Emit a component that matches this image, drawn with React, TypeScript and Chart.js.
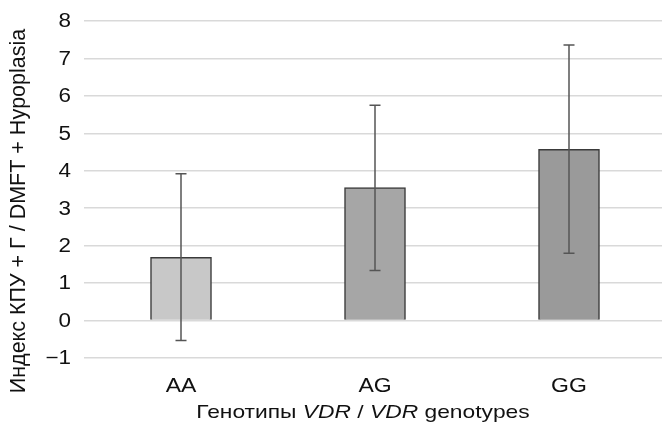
import React, { useEffect, useRef } from "react";
import { Chart, registerables } from "chart.js";

Chart.register(...registerables);

const categories = ["AA", "AG", "GG"];
const means = [1.69, 3.55, 4.57];
const errLow = [-0.53, 1.34, 1.8];
const errHigh = [3.92, 5.75, 7.36];
const barColors = ["#c8c8c8", "#a6a6a6", "#9a9a9a"];
const yTicks = [-1, 0, 1, 2, 3, 4, 5, 6, 7, 8];
const yTitle = "Индекс КПУ + Г / DMFT + Hypoplasia";
const xTitleParts: [string, boolean][] = [
  ["Генотипы ", false],
  ["VDR", true],
  [" / ", false],
  ["VDR", true],
  [" genotypes", false],
];

const FONT = "'Liberation Sans', Arial, sans-serif";
const TEXT = "#111111";
const SX = 1.15; // horizontal stretch of the reference text

const fmtTick = (v: number) => (v < 0 ? "\u2212" + Math.abs(v) : String(v));

const errorBarPlugin = {
  id: "errorBars",
  afterDatasetsDraw(chart: any) {
    const ctx = chart.ctx;
    const meta = chart.getDatasetMeta(0);
    const ys = chart.scales.y;
    ctx.save();
    ctx.strokeStyle = "#555555";
    ctx.lineWidth = 1.5;
    meta.data.forEach((bar: any, i: number) => {
      const x = bar.x;
      const y1 = ys.getPixelForValue(errLow[i]);
      const y2 = ys.getPixelForValue(errHigh[i]);
      ctx.beginPath();
      ctx.moveTo(x, y1);
      ctx.lineTo(x, y2);
      ctx.moveTo(x - 5.5, y1);
      ctx.lineTo(x + 5.5, y1);
      ctx.moveTo(x - 5.5, y2);
      ctx.lineTo(x + 5.5, y2);
      ctx.stroke();
    });
    ctx.restore();
  },
};

const textPlugin = {
  id: "texts",
  afterDraw(chart: any) {
    const ctx = chart.ctx;
    const xs = chart.scales.x;
    const ys = chart.scales.y;

    // y tick labels
    ctx.save();
    ctx.fillStyle = TEXT;
    ctx.font = `19.5px ${FONT}`;
    ctx.textAlign = "right";
    ctx.textBaseline = "middle";
    yTicks.forEach((v) => {
      const y = ys.getPixelForValue(v);
      ctx.save();
      ctx.translate(71, y + 1);
      ctx.scale(SX, 1);
      ctx.fillText(fmtTick(v), 0, 0);
      ctx.restore();
    });
    ctx.restore();

    // x tick labels
    ctx.save();
    ctx.fillStyle = TEXT;
    ctx.font = `20px ${FONT}`;
    ctx.textAlign = "center";
    ctx.textBaseline = "middle";
    categories.forEach((c, i) => {
      const x = xs.getPixelForValue(i);
      ctx.save();
      ctx.translate(x, 386);
      ctx.scale(SX, 1);
      ctx.fillText(c, 0, 0);
      ctx.restore();
    });
    ctx.restore();

    // y title
    ctx.save();
    ctx.fillStyle = TEXT;
    ctx.font = `21.5px ${FONT}`;
    ctx.translate(19, 211);
    ctx.rotate(-Math.PI / 2);
    ctx.textAlign = "center";
    ctx.textBaseline = "middle";
    ctx.fillText(yTitle, 0, 0);
    ctx.restore();

    // x title with italic parts
    ctx.save();
    ctx.fillStyle = TEXT;
    ctx.textBaseline = "middle";
    ctx.textAlign = "left";
    const widths = xTitleParts.map(([t, it]) => {
      ctx.font = `${it ? "italic " : ""}19px ${FONT}`;
      return ctx.measureText(t).width;
    });
    const total = widths.reduce((a, b) => a + b, 0);
    ctx.translate(363, 413);
    ctx.scale(1.2, 1);
    let x = -total / 2;
    xTitleParts.forEach(([t, it], i) => {
      ctx.font = `${it ? "italic " : ""}19px ${FONT}`;
      ctx.fillText(t, x, 0);
      x += widths[i];
    });
    ctx.restore();
  },
};

export default function App() {
  const ref = useRef<HTMLCanvasElement>(null);
  useEffect(() => {
    if (!ref.current) return;
    const chart = new Chart(ref.current, {
      type: "bar",
      data: {
        labels: categories,
        datasets: [
          {
            data: means,
            backgroundColor: barColors,
            borderColor: "#3a3a3a",
            borderWidth: 1.5,
            barThickness: 61,
          },
        ],
      },
      options: {
        animation: false,
        responsive: false,
        maintainAspectRatio: false,
        layout: { padding: { top: 21, right: 0, left: 0, bottom: 0 } },
        plugins: {
          legend: { display: false },
          tooltip: { enabled: false },
          title: { display: false },
        },
        scales: {
          x: {
            grid: { display: false },
            border: { display: false },
            ticks: { display: false },
            afterFit: (s: any) => {
              s.height = 68;
            },
          },
          y: {
            min: -1,
            max: 8,
            afterBuildTicks: (s: any) => {
              s.ticks = yTicks.map((v) => ({ value: v }));
            },
            grid: { color: "#d9d9d9", lineWidth: 1.5, drawTicks: false },
            border: { display: false },
            ticks: { display: false },
            afterFit: (s: any) => {
              s.width = 84;
            },
          },
        },
      },
      plugins: [errorBarPlugin, textPlugin],
    });
    return () => chart.destroy();
  }, []);
  return (
    <div style={{ position: "fixed", left: 0, top: 0, width: 662, height: 426, overflow: "hidden", background: "#fff" }}>
      <canvas ref={ref} width={666} height={426} style={{ width: 666, height: 426 }} />
    </div>
  );
}
